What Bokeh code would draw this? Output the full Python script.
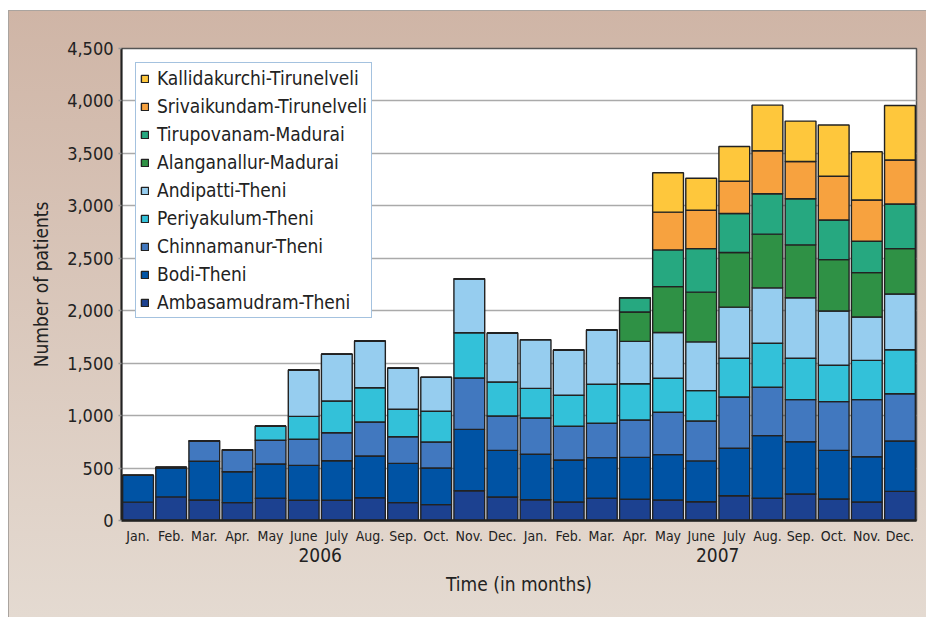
from bokeh.plotting import figure
from bokeh.models import (FactorRange, Legend, LegendItem, NumeralTickFormatter,
                          ColumnDataSource, FixedTicker, Range1d)
from bokeh.embed import file_html
from bokeh.resources import INLINE

years = ["2006", "2007"]
months = ["Jan.", "Feb.", "Mar.", "Apr.", "May", "June", "July",
          "Aug.", "Sep.", "Oct.", "Nov.", "Dec."]

labels = ["Ambasamudram-Theni", "Bodi-Theni", "Chinnamanur-Theni",
          "Periyakulum-Theni", "Andipatti-Theni", "Alanganallur-Madurai",
          "Tirupovanam-Madurai", "Srivaikundam-Tirunelveli",
          "Kallidakurchi-Tirunelveli"]

ambasamudram = [175, 225, 195, 170, 212, 193, 193, 217, 170, 151, 284, 224,
                198, 176, 212, 202, 196, 179, 236, 212, 253, 205, 176, 278]
bodi = [255, 280, 370, 295, 327, 333, 377, 398, 375, 349, 585, 445,
        433, 401, 387, 400, 432, 389, 453, 597, 498, 464, 432, 480]
chinnamanur = [0, 0, 195, 210, 226, 248, 267, 324, 254, 248, 490, 327,
               346, 321, 328, 356, 404, 381, 489, 461, 401, 464, 544, 451]
periyakulum = [0, 0, 0, 0, 133, 219, 302, 327, 261, 293, 431, 324,
               283, 296, 372, 346, 324, 289, 369, 420, 395, 347, 375, 419]
andipatti = [0, 0, 0, 0, 0, 442, 446, 445, 391, 324, 515, 468,
             464, 432, 517, 404, 436, 465, 487, 528, 576, 517, 413, 532]
alanganallur = [0, 0, 0, 0, 0, 0, 0, 0, 0, 0, 0, 0,
                0, 0, 0, 280, 438, 474, 521, 512, 505, 490, 423, 432]
tirupovanam = [0, 0, 0, 0, 0, 0, 0, 0, 0, 0, 0, 0,
               0, 0, 0, 136, 350, 415, 372, 385, 439, 378, 299, 426]
srivaikundam = [0, 0, 0, 0, 0, 0, 0, 0, 0, 0, 0, 0,
                0, 0, 0, 0, 360, 366, 309, 410, 356, 417, 394, 419]
kallidakurchi = [0, 0, 0, 0, 0, 0, 0, 0, 0, 0, 0, 0,
                 0, 0, 0, 0, 375, 305, 330, 435, 385, 489, 460, 519]

y_ticks = [0, 500, 1000, 1500, 2000, 2500, 3000, 3500, 4000, 4500]

colors = ["#1c4190", "#0053a4", "#4178bf", "#33c1d9", "#96cdef",
          "#2f9145", "#26a880", "#f7a23f", "#fec73c"]

FONT = "'DejaVu Sans Condensed', Roboto, sans-serif"

x = [(yr, m) for yr in years for m in months]
keys = ["amba", "bodi", "chin", "peri", "andi", "alan", "tiru", "sriv", "kall"]
series = [ambasamudram, bodi, chinnamanur, periyakulum, andipatti,
          alanganallur, tirupovanam, srivaikundam, kallidakurchi]
data = {"x": x}
for k, s in zip(keys, series):
    data[k] = s
source = ColumnDataSource(data)

p = figure(x_range=FactorRange(*x, group_padding=0, range_padding=0),
           y_range=Range1d(0, 4500),
           width=918, height=607,
           output_backend="svg", toolbar_location=None,
           min_border_left=113, min_border_top=38,
           min_border_right=10, min_border_bottom=97)

p.styles = {"background": "linear-gradient(to bottom, #cfb5a6, #e4dad1)",
            "box-shadow": "inset 1px 1px 0 #aaa49f",
            "margin-left": "8px", "margin-top": "10px"}
p.border_fill_color = None
p.background_fill_color = "white"
p.outline_line_color = "#555555"
p.outline_line_width = 1.5

renderers = p.vbar_stack(keys, x="x", width=0.93, color=colors,
                         line_color="#222222", line_width=1.4, source=source)

items = [LegendItem(label=lab, renderers=[r]) for lab, r in zip(labels, renderers)][::-1]
legend = Legend(items=items, location="top_left")
legend.margin = 14
legend.padding = 4
legend.spacing = 6
legend.label_height = 20
legend.glyph_width = 9
legend.glyph_height = 9
legend.label_standoff = 8
legend.label_text_font = FONT
legend.label_text_font_size = "19px"
legend.label_text_color = "#222222"
legend.border_line_color = "#4a86c0"
legend.border_line_width = 1.5
legend.background_fill_color = "white"
legend.background_fill_alpha = 1
p.add_layout(legend)

p.xgrid.grid_line_color = None
p.ygrid.grid_line_color = "#aaaaaa"
p.ygrid.grid_line_width = 1.5

p.yaxis.ticker = FixedTicker(ticks=y_ticks)
p.yaxis.formatter = NumeralTickFormatter(format="0,0")
p.yaxis.major_tick_line_color = "#999999"
p.yaxis.major_tick_line_width = 1.5
p.yaxis.major_tick_in = 0
p.yaxis.major_tick_out = 3
p.yaxis.minor_tick_line_color = None
p.yaxis.axis_line_color = "#222222"
p.yaxis.axis_line_width = 2
p.yaxis.major_label_text_font = FONT
p.yaxis.major_label_text_font_size = "18px"
p.yaxis.major_label_text_color = "#222222"
p.yaxis.major_label_standoff = 5
p.yaxis.axis_label = "Number of patients"
p.yaxis.axis_label_text_font = FONT
p.yaxis.axis_label_text_font_size = "19px"
p.yaxis.axis_label_text_font_style = "normal"
p.yaxis.axis_label_text_color = "#222222"
p.yaxis.axis_label_standoff = 12

p.xaxis.major_tick_line_color = None
p.xaxis.minor_tick_line_color = None
p.xaxis.axis_line_color = "#222222"
p.xaxis.axis_line_width = 2.5
p.xaxis.major_label_text_font = FONT
p.xaxis.major_label_text_font_size = "14px"
p.xaxis.major_label_text_color = "#222222"
p.xaxis.major_label_standoff = 1
p.xaxis.group_text_font = FONT
p.xaxis.group_text_font_size = "19px"
p.xaxis.group_text_font_style = "normal"
p.xaxis.group_text_color = "#222222"
p.xaxis.separator_line_alpha = 0
p.xaxis.axis_label = "Time (in months)"
p.xaxis.axis_label_text_font = FONT
p.xaxis.axis_label_text_font_size = "19px"
p.xaxis.axis_label_text_font_style = "normal"
p.xaxis.axis_label_text_color = "#222222"
p.xaxis.axis_label_standoff = 8

open("out.html", "w").write(file_html(p, INLINE))
